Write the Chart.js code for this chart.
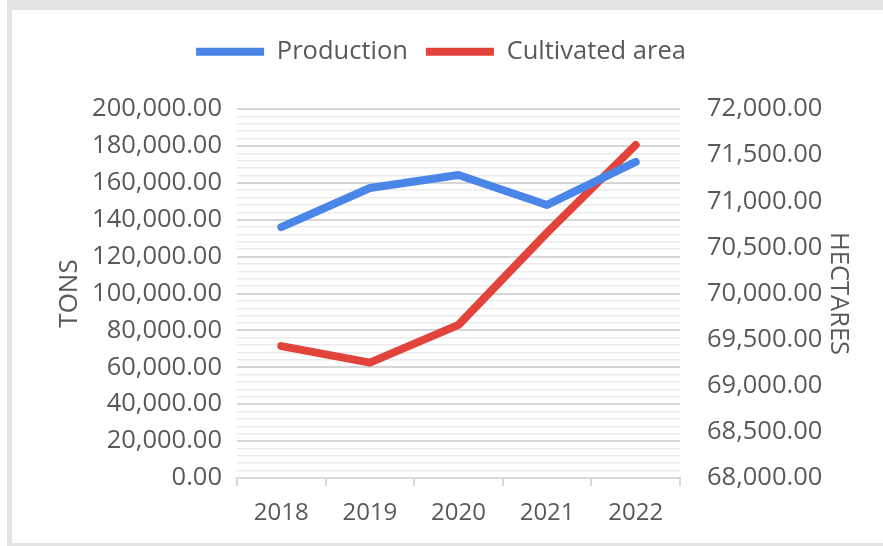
<!DOCTYPE html>
<html>
<head>
<meta charset="utf-8">
<script src="https://cdn.jsdelivr.net/npm/chart.js@4/dist/chart.umd.min.js"></script>
<style>
  html, body { margin: 0; padding: 0; background: #ffffff; }
  #wrap { position: relative; width: 883px; height: 546px; overflow: hidden; }
  #frame {
    position: absolute; left: 7px; top: 0; width: 876px; height: 546px;
    box-sizing: border-box; background: #ffffff;
    border-top: 10px solid #e3e3e3; border-left: 5px solid #e3e3e3;
    border-bottom: 3px solid #e3e3e3;
  }
  #c { position: absolute; left: 0; top: 0; }
</style>
</head>
<body>
<div id="wrap">
  <div id="frame"></div>
  <canvas id="c" width="883" height="546"></canvas>
</div>
<script>
// Yearly series
const years = ['2018', '2019', '2020', '2021', '2022'];
const production = [136000, 157200, 164200, 148000, 171300];      // tons
const cultivatedArea = [69430, 69250, 69660, 70660, 71610];       // hectares

// Axis ranges and tick steps
const tonsRange = [0, 200000];
const tonsMajorStep = 20000;
const tonsMinorStep = 4000;
const hectaresRange = [68000, 72000];
const hectaresStep = 500;

const TEXT = '#595959';
const FONT = 'Open Sans';

const fmt = v => v.toLocaleString('en-US', { minimumFractionDigits: 2, maximumFractionDigits: 2 });
const isMajor = v => Math.abs(v / tonsMajorStep - Math.round(v / tonsMajorStep)) < 1e-9;

// Legend block: fixed height above the plot, nudged slightly left
const legendPlacement = {
  id: 'legendPlacement',
  beforeInit(chart) {
    const origFit = chart.legend.fit;
    chart.legend.fit = function () {
      origFit.call(this);
      this.height = 88;
    };
  },
  afterLayout(chart) {
    chart.legend.left -= 13;
    chart.legend.right -= 13;
  }
};

new Chart(document.getElementById('c'), {
  type: 'line',
  data: {
    labels: years,
    datasets: [
      {
        label: 'Production',
        data: production,
        yAxisID: 'y',
        borderColor: '#4a86e8',
        backgroundColor: '#4a86e8',
        borderWidth: 8,
        borderCapStyle: 'round',
        borderJoinStyle: 'round',
        pointRadius: 0,
        tension: 0
      },
      {
        label: 'Cultivated area',
        data: cultivatedArea,
        yAxisID: 'y1',
        borderColor: '#e2433a',
        backgroundColor: '#e2433a',
        borderWidth: 8,
        borderCapStyle: 'round',
        borderJoinStyle: 'round',
        pointRadius: 0,
        tension: 0
      }
    ]
  },
  options: {
    responsive: false,
    animation: false,
    events: [],
    layout: { padding: { left: 54, right: 29, top: 21, bottom: 20 } },
    plugins: {
      tooltip: { enabled: false },
      legend: {
        position: 'top',
        align: 'center',
        labels: {
          usePointStyle: true,
          pointStyle: 'line',
          pointStyleWidth: 68,
          padding: 18,
          color: TEXT,
          font: { family: FONT, size: 25.5 }
        }
      }
    },
    scales: {
      x: {
        type: 'category',
        offset: true,
        border: { display: true, color: '#d9d9d9', width: 2 },
        grid: { offset: true, drawOnChartArea: false, drawTicks: true, tickLength: 8, color: '#d9d9d9', lineWidth: 2 },
        ticks: { color: TEXT, font: { family: FONT, size: 24 }, padding: 13, maxRotation: 0 },
        afterFit(s) { s.height = 48; }
      },
      y: {
        position: 'left',
        min: tonsRange[0],
        max: tonsRange[1],
        border: { display: false },
        grid: {
          drawTicks: false,
          color: ctx => isMajor(ctx.tick.value) ? '#d6d6d6' : '#ebebeb',
          lineWidth: ctx => isMajor(ctx.tick.value) ? 2 : 1.5
        },
        ticks: {
          stepSize: tonsMinorStep,
          maxTicksLimit: 100,
          autoSkip: false,
          padding: 15,
          color: TEXT,
          font: { family: FONT, size: 25.5 },
          callback: v => isMajor(v) ? fmt(v) : ''
        },
        title: { display: true, text: 'TONS', color: TEXT, font: { family: FONT, size: 26 }, padding: 0 },
        afterFit(s) { s.width = 183; }
      },
      y1: {
        position: 'right',
        min: hectaresRange[0],
        max: hectaresRange[1],
        border: { display: false },
        grid: { drawOnChartArea: false, drawTicks: false },
        ticks: {
          stepSize: hectaresStep,
          padding: 27,
          color: TEXT,
          font: { family: FONT, size: 25.5 },
          callback: v => fmt(v)
        },
        title: { display: true, text: 'HECTARES', color: TEXT, font: { family: FONT, size: 25.5 }, padding: 0 },
        afterFit(s) { s.width = 174; }
      }
    }
  },
  plugins: [legendPlacement]
});
</script>
</body>
</html>
